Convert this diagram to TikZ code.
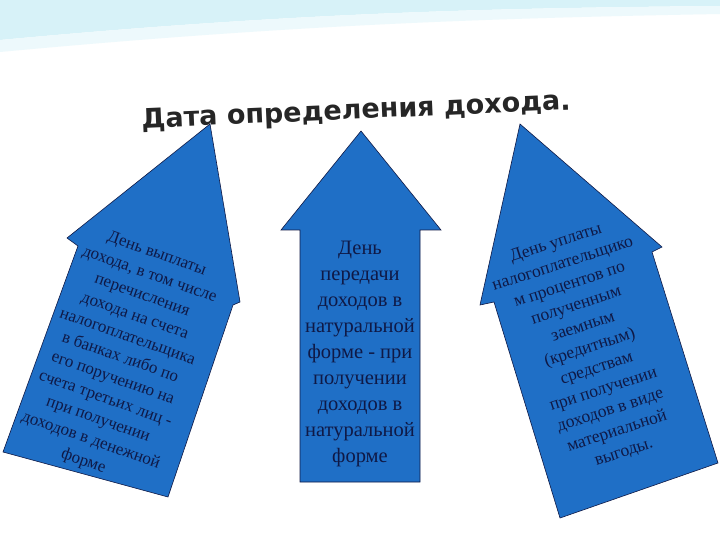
\documentclass[tikz,border=0pt]{standalone}
\usepackage{fontspec}
\setmainfont{Liberation Serif}
\newfontfamily\titlefont{DejaVu Sans}
\definecolor{arrblue}{RGB}{31,111,198}
\definecolor{txtblue}{RGB}{15,25,70}
\definecolor{wave}{RGB}{215,242,248}
\begin{document}
\begin{tikzpicture}[x=1pt,y=-1pt,
  arrowbox/.style={fill=arrblue,draw=txtblue,line width=0.6pt,line join=miter},
  arrtext/.style={text=txtblue,align=center,inner sep=0pt}]
\useasboundingbox (0,0) rectangle (720,540);
\fill[white] (0,0) rectangle (720,540);
\fill[wave] (0,0) -- (720,0) -- (720,6) .. controls (500,8) and (300,12) .. (0,40) -- cycle;
\fill[wave!45] (0,40) .. controls (300,12) and (500,8) .. (720,6) -- (720,14) .. controls (500,18) and (300,24) .. (0,52) -- cycle;
% title
\node[text=black!85,rotate=2.5,font=\titlefont\bfseries\fontsize{27}{30}\selectfont] (title) at (356,112) {Дата определения дохода.};
% left arrow
\draw[arrowbox] (210,124) -- (240,302) -- (233,305) -- (168,497) -- (3,452) -- (78,246) -- (67,238) -- cycle;
\node[arrtext,rotate=-19.5,font=\fontsize{17}{22}\selectfont] (lt) at (120,358) {День выплаты\\дохода, в том числе\\перечисления\\дохода на счета\\налогоплательщика\\в банках либо по\\его поручению на\\счета третьих лиц -\\при получении\\доходов в денежной\\форме};
% middle arrow
\draw[arrowbox] (361,131) -- (441,230) -- (420,230) -- (420,482) -- (300,482) -- (300,230) -- (281,230) -- cycle;
\node[arrtext,font=\fontsize{20.5}{26}\selectfont] (mt) at (360,354) {День\\передачи\\доходов в\\натуральной\\форме - при\\получении\\доходов в\\натуральной\\форме};
% right arrow
\draw[arrowbox] (520,124) -- (662,247) -- (652,252) -- (718,463) -- (560,518) -- (494,302) -- (480,305) -- cycle;
\node[arrtext,rotate=18,font=\fontsize{17.5}{22}\selectfont] (rt) at (590,348) {День уплаты\\налогоплательщико\\м процентов по\\полученным\\заемным\\(кредитным)\\средствам\\при получении\\доходов в виде\\материальной\\выгоды.};
\end{tikzpicture}
\end{document}
